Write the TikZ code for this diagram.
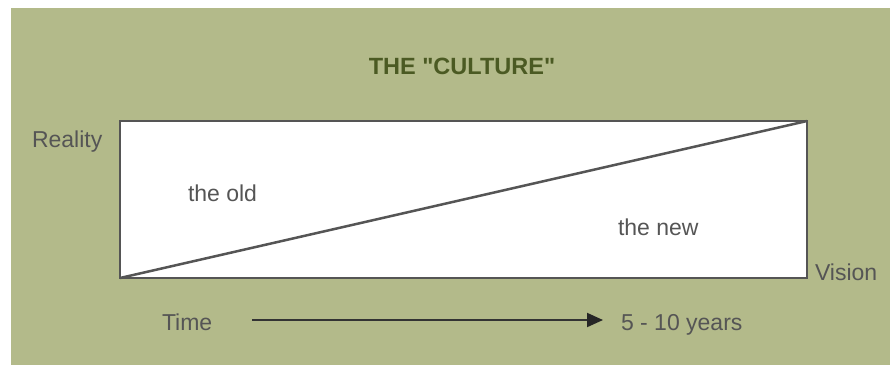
\documentclass[tikz,border=0pt]{standalone}
\usepackage{fontspec}
\setmainfont{Liberation Sans}
\usepackage{tikz}
\usetikzlibrary{positioning,arrows.meta,calc}

\definecolor{olivebg}{HTML}{B3BA8A}
\definecolor{olivetitle}{HTML}{4B5A23}
\definecolor{greytext}{HTML}{555555}

\begin{document}
\begin{tikzpicture}[
	x=1pt, y=-1pt,
	every node/.style={
		inner sep=0pt,
		outer sep=0pt
	},
	label/.style={
		color=greytext,
		font=\fontsize{23}{26}\selectfont
	},
	heading/.style={
		color=olivetitle,
		font=\fontsize{23.5}{26}\selectfont\bfseries
	},
	culturebox/.style={
		rectangle,
		draw=greytext,
		fill=white,
		line width=2.5pt,
		minimum width=687pt,
		minimum height=157pt
	},
	timeline/.style={
		draw=greytext!60!black,
		line width=2pt,
		arrows={-Triangle[length=16pt,width=14pt,color=black!85]}
	}
]

  \useasboundingbox (0,0) rectangle (890,365);
  \fill[olivebg] (11,8) rectangle (890,365);

  \node (Title) [heading, anchor=base] at (462,74) {THE \textquotedbl CULTURE\textquotedbl};
  \node (Culture) [culturebox] at (463.5,199.5) {};
  \draw[greytext, line width=2.5pt] (Culture.south west) -- (Culture.north east);

  \node (Reality) [label, anchor=base west] at (32,147) {Reality};
  \node (Vision) [label, anchor=base west] at (815,280) {Vision};
  \node (Old) [label, anchor=base west] at (188,201) {the old};
  \node (New) [label, anchor=base west] at (618,235) {the new};

  \node (Time) [label, anchor=base west] at (162,330) {Time};
  \node (Years) [label, anchor=base west] at (621,330) {5 - 10 years};
  \coordinate (TimeStart) at ($(Time.base east)+(40,-10)$);
  \coordinate (TimeEnd) at ($(Years.base west)+(-18,-10)$);
  \draw[timeline] (TimeStart) -- (TimeEnd);
\end{tikzpicture}
\end{document}
